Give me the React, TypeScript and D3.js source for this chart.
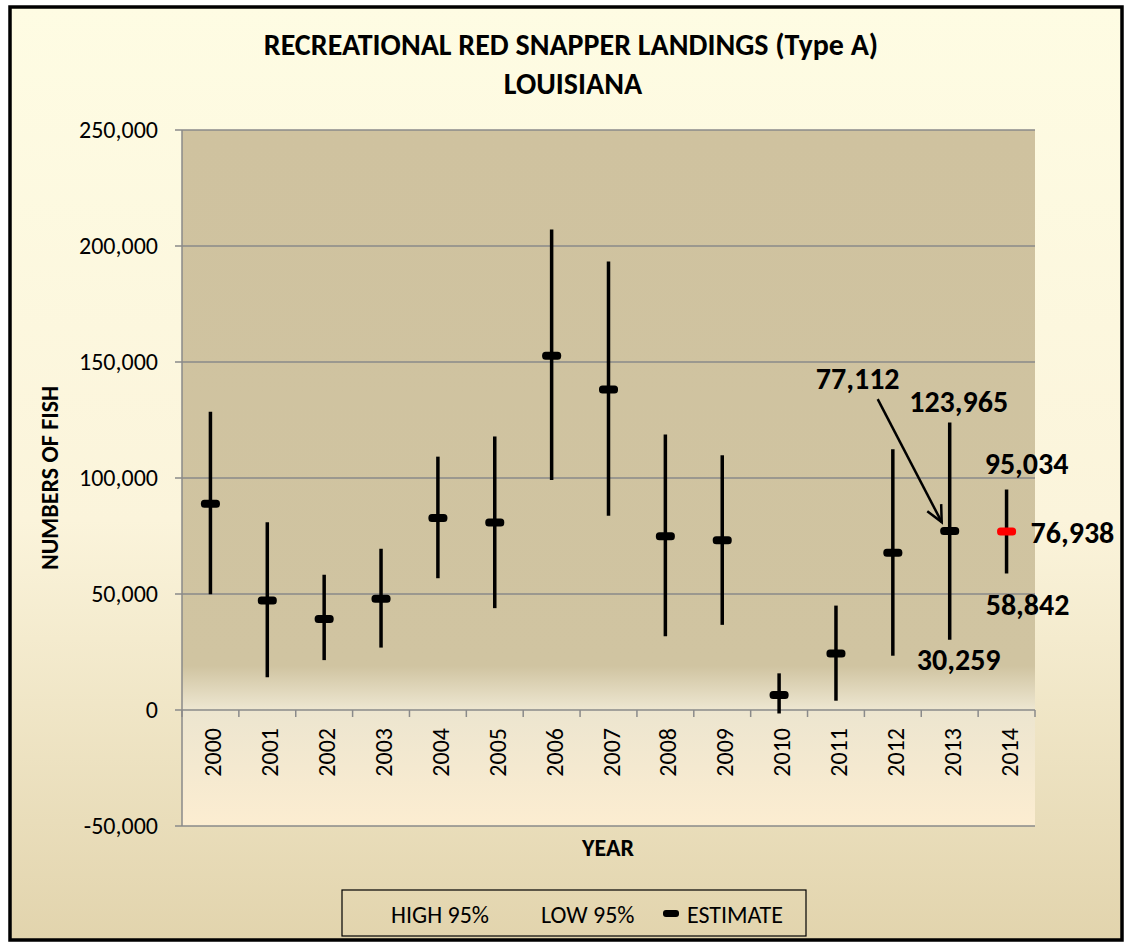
import * as d3 from 'd3';

const years = ['2000', '2001', '2002', '2003', '2004', '2005', '2006', '2007', '2008', '2009', '2010', '2011', '2012', '2013', '2014'];
const estimate = [88900, 47200, 39200, 47900, 82800, 80800, 152700, 138200, 74900, 73200, 6500, 24400, 67800, 77112, 76938];
const high95 = [128600, 80900, 58300, 69500, 109200, 117900, 207100, 193300, 118800, 109800, 15800, 45000, 112400, 123965, 95034];
const low95 = [49900, 14100, 21500, 26900, 56800, 43900, 99100, 83700, 31800, 36700, -1500, 4000, 23400, 30259, 58842];
const yTicks = [-50000, 0, 50000, 100000, 150000, 200000, 250000];
const legendLabels = ['HIGH 95%', 'LOW 95%', 'ESTIMATE'];

const W = 1127;
const H = 948;
const FONT = 'Carlito, Lato, "Open Sans", sans-serif';

export default function App() {
  const margin = { top: 130, right: 92, bottom: 122, left: 182 };
  const plotW = W - margin.left - margin.right;
  const plotH = H - margin.top - margin.bottom;

  const x = d3.scaleBand<string>().domain(years).range([margin.left, margin.left + plotW]).padding(0);
  const y = d3.scaleLinear().domain([-50000, 250000]).range([margin.top + plotH, margin.top]);
  const fmt = (v: number) => d3.format(',')(v).replace('−', '-');
  const cx = (i: number) => (x(years[i]) || 0) + x.bandwidth() / 2;

  const i13 = years.indexOf('2013');
  const i14 = years.indexOf('2014');
  const boundaries = years.map((d) => (x(d) || 0) + x.bandwidth()).concat([margin.left]);

  // arrow pointing at the 2013 estimate
  const arrowTip = { x: cx(i13) - 8, y: y(estimate[i13]) - 9 };
  const arrowStart = { x: cx(i13) - 72, y: y(estimate[i13]) - 132 };
  const ang = Math.atan2(arrowTip.y - arrowStart.y, arrowTip.x - arrowStart.x);
  const headLen = 18;
  const head = [ang - 0.45, ang + 0.45].map((a) => [arrowTip.x - headLen * Math.cos(a), arrowTip.y - headLen * Math.sin(a)]);

  const labelStyle = { fontFamily: FONT, fontWeight: 700, fontSize: 30, fill: '#000' };
  const legendStyle = { fontFamily: FONT, fontSize: 24, fill: '#000' };

  return (
    <svg width={W} height={H} style={{ position: 'absolute', left: 0, top: 0 }}>
      <defs>
        <linearGradient id="bg" x1="0" y1="0" x2="0" y2="1">
          <stop offset="0%" stopColor="#FEFCE3" />
          <stop offset="55%" stopColor="#FBF4DB" />
          <stop offset="100%" stopColor="#E2D4AD" />
        </linearGradient>
        <linearGradient id="plotbg" x1="0" y1="0" x2="0" y2="1">
          <stop offset="0%" stopColor="#CFC29F" />
          <stop offset="77%" stopColor="#D0C4A1" />
          <stop offset="83%" stopColor="#ECE5CF" />
          <stop offset="100%" stopColor="#FCEDD1" />
        </linearGradient>
      </defs>

      <rect x={10} y={7} width={1112} height={933} fill="url(#bg)" stroke="#000" strokeWidth={3.5} />

      <text x={571} y={55} textAnchor="middle" style={{ fontFamily: FONT, fontWeight: 700, fontSize: 30 }}>
        RECREATIONAL RED SNAPPER LANDINGS (Type A)
      </text>
      <text x={573} y={94} textAnchor="middle" style={{ fontFamily: FONT, fontWeight: 700, fontSize: 30 }}>
        LOUISIANA
      </text>

      <rect x={margin.left} y={margin.top} width={plotW} height={plotH} fill="url(#plotbg)" />

      {yTicks.map((t) => (
        <g key={t}>
          <line x1={margin.left} x2={margin.left + plotW} y1={y(t)} y2={y(t)} stroke="#8A8A8A" strokeWidth={1.5} />
          <line x1={margin.left - 7} x2={margin.left} y1={y(t)} y2={y(t)} stroke="#8A8A8A" strokeWidth={1.5} />
          <text x={158} y={y(t)} dy="0.33em" textAnchor="end" style={{ fontFamily: FONT, fontSize: 24, fill: '#000' }}>
            {fmt(t)}
          </text>
        </g>
      ))}
      <line x1={margin.left} x2={margin.left} y1={margin.top} y2={margin.top + plotH} stroke="#8A8A8A" strokeWidth={1.5} />

      {boundaries.map((b, i) => (
        <line key={i} x1={b} x2={b} y1={y(0)} y2={y(0) + 7} stroke="#8A8A8A" strokeWidth={1.5} />
      ))}
      {years.map((d, i) => (
        <text
          key={d}
          transform={`translate(${cx(i) + 11},${y(0) + 18}) rotate(-90)`}
          textAnchor="end"
          style={{ fontFamily: FONT, fontSize: 24, fill: '#000' }}
        >
          {d}
        </text>
      ))}

      {years.map((d, i) => (
        <g key={d}>
          <line x1={cx(i)} x2={cx(i)} y1={y(high95[i])} y2={y(low95[i])} stroke="#000" strokeWidth={3.5} />
          <rect
            x={cx(i) - 9.5}
            y={y(estimate[i]) - 4}
            width={19}
            height={8}
            rx={3.5}
            fill={d === '2014' ? '#FF0000' : '#000'}
          />
        </g>
      ))}

      <text x={cx(i13) + 9} y={y(high95[i13]) - 10} textAnchor="middle" style={labelStyle}>{fmt(high95[i13])}</text>
      <text x={cx(i13) + 9} y={y(low95[i13]) + 30} textAnchor="middle" style={labelStyle}>{fmt(low95[i13])}</text>
      <text x={cx(i13) - 92} y={y(estimate[i13]) - 142} textAnchor="middle" style={labelStyle}>{fmt(estimate[i13])}</text>
      <line x1={arrowStart.x} y1={arrowStart.y} x2={arrowTip.x} y2={arrowTip.y} stroke="#000" strokeWidth={2.5} />
      <polyline
        points={`${head[0][0]},${head[0][1]} ${arrowTip.x},${arrowTip.y} ${head[1][0]},${head[1][1]}`}
        fill="none"
        stroke="#000"
        strokeWidth={2.5}
      />

      <text x={cx(i14) + 20} y={y(high95[i14]) - 16} textAnchor="middle" style={labelStyle}>{fmt(high95[i14])}</text>
      <text x={cx(i14) + 21} y={y(low95[i14]) + 42} textAnchor="middle" style={labelStyle}>{fmt(low95[i14])}</text>
      <text x={cx(i14) + 24} y={y(estimate[i14]) + 11} textAnchor="start" style={labelStyle}>{fmt(estimate[i14])}</text>

      <text
        transform={`translate(58,${margin.top + plotH / 2}) rotate(-90)`}
        textAnchor="middle"
        style={{ fontFamily: FONT, fontWeight: 700, fontSize: 24 }}
      >
        NUMBERS OF FISH
      </text>
      <text x={608} y={856} textAnchor="middle" style={{ fontFamily: FONT, fontWeight: 700, fontSize: 24 }}>
        YEAR
      </text>

      <rect x={342} y={890} width={464} height={46} fill="none" stroke="#000" strokeWidth={1.2} />
      <text x={391} y={923} style={legendStyle}>{legendLabels[0]}</text>
      <text x={541} y={923} style={legendStyle}>{legendLabels[1]}</text>
      <rect x={663} y={910} width={16} height={7} rx={3} fill="#000" />
      <text x={687} y={923} style={legendStyle}>{legendLabels[2]}</text>
    </svg>
  );
}
